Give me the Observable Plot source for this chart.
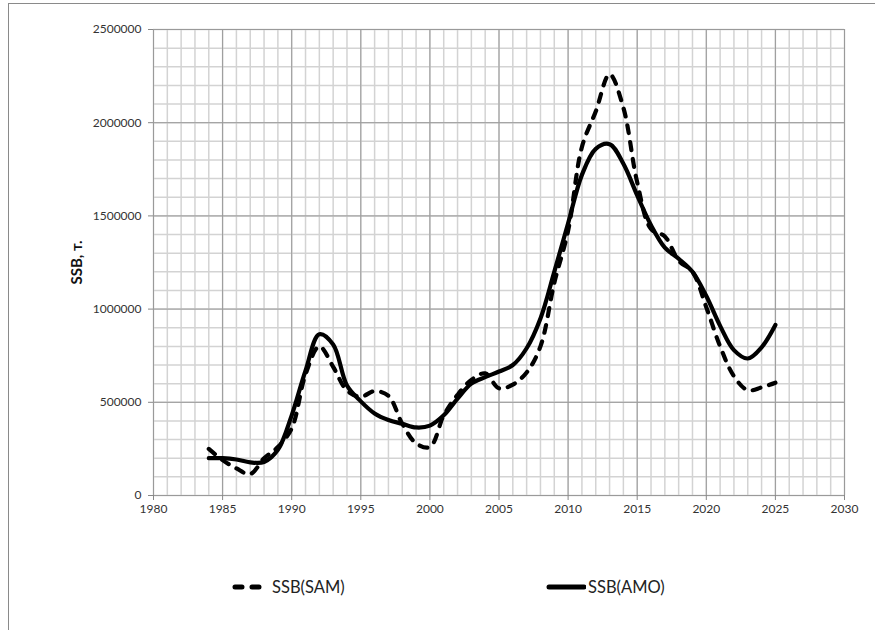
<!DOCTYPE html>
<html>
<head>
<meta charset="utf-8">
<script src="https://cdn.jsdelivr.net/npm/d3@7"></script>
<script src="https://cdn.jsdelivr.net/npm/@observablehq/plot@0.6"></script>
<style>
  body { margin: 0; background: #fff; font-family: Lato, "Open Sans", sans-serif; }
  #frame { position: absolute; left: 8px; top: 3px; width: 900px; height: 700px;
           border-left: 1px solid #8a8a8a; border-top: 1px solid #8a8a8a; }
  #chart { position: absolute; left: 0; top: 0; }
  .leg { position: absolute; top: 570px; height: 26px; display: flex; align-items: center;
         font-size: 16.5px; color: #222; }
  .leg svg { margin-right: 2px; }
</style>
</head>
<body>
<div id="frame">
  <div id="chart"></div>
  <div class="leg" id="leg1"></div>
  <div class="leg" id="leg2"></div>
</div>
<script>
// ---- data ----
const years = d3.range(1984, 2026);
const ssbSAM = [250000, 190000, 145000, 115000, 200000, 260000, 360000, 650000, 800000, 690000,
                563000, 530000, 560000, 535000, 385000, 280000, 260000, 430000, 540000, 620000,
                655000, 575000, 595000, 660000, 800000, 1140000, 1420000, 1870000, 2060000, 2260000,
                2080000, 1680000, 1430000, 1390000, 1260000, 1200000, 1010000, 800000, 640000, 565000,
                580000, 605000];
const ssbAMO = [200000, 200000, 193000, 178000, 180000, 245000, 430000, 670000, 865000, 810000,
                590000, 505000, 440000, 405000, 385000, 365000, 375000, 430000, 520000, 600000,
                635000, 665000, 700000, 790000, 950000, 1200000, 1460000, 1720000, 1860000, 1885000,
                1780000, 1610000, 1450000, 1330000, 1270000, 1200000, 1070000, 910000, 780000, 735000,
                795000, 915000];
const seriesNames = ["SSB(SAM)", "SSB(AMO)"];
const xTicks = [1980, 1985, 1990, 1995, 2000, 2005, 2010, 2015, 2020, 2025, 2030];
const yTicks = [0, 500000, 1000000, 1500000, 2000000, 2500000];
const xMinor = d3.range(1980, 2031, 1);
const yMinor = d3.range(0, 2500001, 100000);
const yLabel = "SSB, т.";

const samData = years.map((year, i) => ({year, v: ssbSAM[i]}));
const amoData = years.map((year, i) => ({year, v: ssbAMO[i]}));

const plot = Plot.plot({
  width: 866,
  height: 520,
  marginLeft: 144,
  marginRight: 31,
  marginTop: 25,
  marginBottom: 29,
  x: {domain: [1980, 2030]},
  y: {domain: [0, 2500000]},
  style: {fontFamily: "Lato, 'Open Sans', sans-serif", fontSize: "12px", color: "#333", background: "transparent"},
  marks: [
    Plot.ruleX(xMinor, {stroke: "#d3d3d3", strokeWidth: 1.5}),
    Plot.ruleY(yMinor, {stroke: "#d3d3d3", strokeWidth: 1.5}),
    Plot.ruleX(xTicks, {stroke: "#9a9a9a", strokeWidth: 1}),
    Plot.ruleY(yTicks, {stroke: "#9a9a9a", strokeWidth: 1}),
    Plot.axisX({ticks: xTicks, tickFormat: d => String(d), tickSize: 5, tickPadding: 4, label: null, stroke: "#888"}),
    Plot.axisY({ticks: yTicks, tickFormat: d => String(d), tickSize: 5, tickPadding: 7, stroke: "#888", label: null}),
    Plot.axisY({ticks: [], label: yLabel, labelAnchor: "center", labelArrow: false, labelOffset: 82,
                fontSize: 15, fontWeight: "bold", fill: "#111"}),
    Plot.line(amoData, {x: "year", y: "v", curve: "catmull-rom", stroke: "#000", strokeWidth: 4.2}),
    Plot.line(samData, {x: "year", y: "v", curve: "catmull-rom", stroke: "#000", strokeWidth: 4.2,
                        strokeDasharray: "8,9", strokeLinecap: "round"})
  ]
});
document.getElementById("chart").appendChild(plot);

// legend
const leg1 = document.getElementById("leg1");
leg1.style.left = (232 - 9) + "px";
leg1.innerHTML = `<svg width="38" height="10"><line x1="3" y1="5" x2="33" y2="5" stroke="#000" stroke-width="5" stroke-linecap="round" stroke-dasharray="7,10"/></svg><span>${seriesNames[0]}</span>`;
const leg2 = document.getElementById("leg2");
leg2.style.left = (546 - 9) + "px";
leg2.innerHTML = `<svg width="40" height="10"><line x1="3" y1="5" x2="38" y2="5" stroke="#000" stroke-width="5" stroke-linecap="round"/></svg><span>${seriesNames[1]}</span>`;
</script>
</body>
</html>
